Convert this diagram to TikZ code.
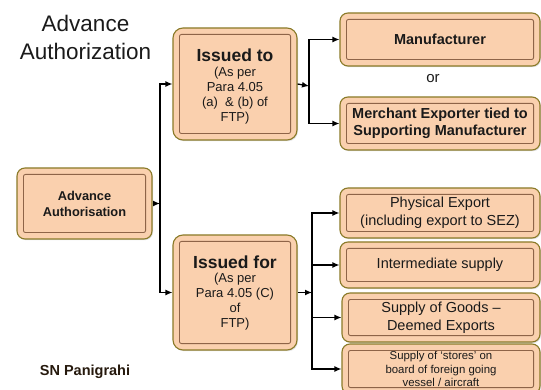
\documentclass[tikz,border=0pt]{standalone}
\usepackage{fontspec}
\setmainfont{Liberation Sans}
\usetikzlibrary{arrows.meta,shadows}
\definecolor{peach}{HTML}{FAD0AE}
\definecolor{boxedge}{HTML}{8A7A28}
\definecolor{innerline}{HTML}{8E6448}
\definecolor{txtdark}{HTML}{1A1A1A}
\tikzset{
  pbox/.style={draw=boxedge, line width=1.1pt, fill=peach, rounded corners=8pt,
    inner sep=2pt, align=center, text=txtdark,
    drop shadow={opacity=0.25, shadow xshift=1pt, shadow yshift=-1.2pt}},
  conn/.style={line width=1.3pt, -{Latex[length=7pt,width=6pt]}},
  innerbox/.style={draw=innerline, line width=0.9pt, rounded corners=2pt},
}
\newcommand\innerrect[1]{\draw[innerbox] ([shift={(7pt,-7pt)}]#1.north west) rectangle ([shift={(-7pt,7pt)}]#1.south east);}
\begin{document}
\begin{tikzpicture}[x=1pt,y=-1pt]
\useasboundingbox (0,0) rectangle (541,390);
\clip (0,0) rectangle (541,390);

% title
\node[font=\fontsize{22.5}{28}\selectfont, align=center, text=txtdark] (title) at (85.5,37) {Advance\\Authorization};

% boxes
\node[pbox, minimum width=135pt, minimum height=71pt, font=\fontsize{12.8}{16}\selectfont\bfseries] (adv) at (84.5,203.5) {Advance\\Authorisation};
\innerrect{adv}

\node[pbox, minimum width=124pt, minimum height=112pt, font=\fontsize{13}{15}\selectfont, rounded corners=10pt] (ito) at (235,84) {};
\innerrect{ito}
\node[align=center, text=txtdark, font=\fontsize{13}{15}\selectfont] (itotext) at (235,87)
  {\fontsize{17.5}{21}\selectfont\bfseries Issued to\\[0pt]
   \fontsize{13}{15}\selectfont\mdseries (As per\\Para 4.05\\(a)\ \ \& (b) of\\FTP)};

\node[pbox, minimum width=124pt, minimum height=115pt, font=\fontsize{13}{15}\selectfont, rounded corners=10pt] (ifor) at (235,292.5) {};
\innerrect{ifor}
\node[align=center, text=txtdark, font=\fontsize{13}{15}\selectfont] (ifortext) at (235,293.5)
  {\fontsize{17.5}{21}\selectfont\bfseries Issued for\\[-1pt]
   \fontsize{13}{15}\selectfont\mdseries (As per\\Para 4.05 (C)\\of\\FTP)};

\node[pbox, minimum width=200pt, minimum height=53pt, font=\fontsize{14.5}{17.5}\selectfont\bfseries] (man) at (440,39.5) {Manufacturer};
\innerrect{man}

\node[font=\fontsize{15}{17}\selectfont, text=txtdark] (or) at (433,79) {or};

\node[pbox, minimum width=200pt, minimum height=53pt, font=\fontsize{14.5}{17.5}\selectfont\bfseries] (mer) at (440,123.5) {Merchant Exporter tied to\\Supporting Manufacturer};
\innerrect{mer}

\node[pbox, minimum width=200pt, minimum height=50pt, font=\fontsize{14.5}{18}\selectfont] (phy) at (440,213) {Physical Export\\(including export to SEZ)};
\innerrect{phy}

\node[pbox, minimum width=200pt, minimum height=46pt, font=\fontsize{14.5}{18}\selectfont] (int) at (440,265) {Intermediate supply};
\innerrect{int}

\node[pbox, minimum width=198pt, minimum height=49pt, font=\fontsize{14.5}{18}\selectfont] (sog) at (441,317.5) {Supply of Goods --\\Deemed Exports};
\innerrect{sog}

\node[pbox, minimum width=198pt, minimum height=50pt, font=\fontsize{11.4}{13.5}\selectfont] (sos) at (441,369) {Supply of `stores' on\\board of foreign going\\vessel / aircraft};
\innerrect{sos}

\node[font=\fontsize{14.5}{17}\selectfont\bfseries, text=black!80!brown] (sn) at (85,372) {SN Panigrahi};

% connectors
\coordinate (j1) at (160,203.5);
\coordinate (j2) at (309,86);
\coordinate (j3) at (312,292.5);

\draw[conn] (adv.east) -- (j1);
\draw[conn] (j1) |- (ito.west);
\draw[conn] (j1) |- (ifor.west);

\draw[conn] (ito.east) -- (j2);
\draw[conn] (j2) |- (man.west);
\draw[conn] (j2) |- (mer.west);

\draw[conn] (ifor.east) -- (j3);
\draw[conn] (j3) |- (phy.west);
\draw[conn] (j3) |- (int.west);
\draw[conn] (j3) |- (sog.west);
\draw[conn] (j3) |- (sos.west);
\end{tikzpicture}
\end{document}
